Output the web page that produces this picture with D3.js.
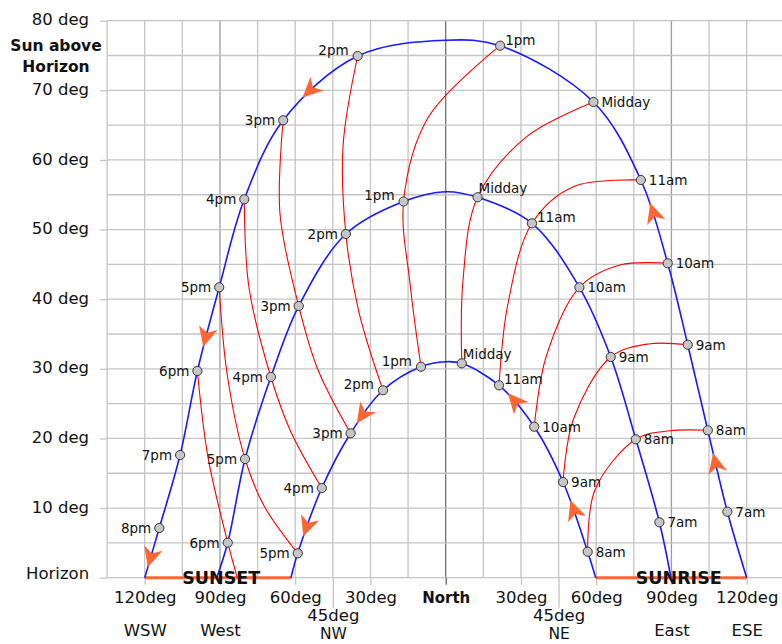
<!DOCTYPE html>
<html><head><meta charset="utf-8">
<script src="https://cdn.jsdelivr.net/npm/d3@7"></script>
<style>
body{margin:0;background:#fff;}
svg{display:block;font-family:"DejaVu Sans",sans-serif;}
</style></head><body>
<svg id="chart" width="782" height="644"></svg>
<script>
// ---------- data (azimuth from North: east +, west -; altitude in degrees) ----------
const times = ["7am","8am","9am","10am","11am","Midday","1pm","2pm","3pm","4pm","5pm","6pm","7pm","8pm"];
const summerAz   = [112.3,104.5,96.5,88.5,77.8,58.9,21.7,-35.1,-64.8,-80.3,-90.3,-99.0,-105.9,-114.2];
const summerAlt  = [9.48,21.17,33.46,45.16,57.12,68.32,76.41,74.93,65.7,54.35,41.71,29.69,17.62,7.14];
const equinoxAz  = [85.2,75.8,65.8,53.3,34.4,12.7,-16.8,-39.8,-58.6,-69.7,-80.0,-86.9,null,null];
const equinoxAlt = [7.96,19.88,31.7,41.71,50.9,54.64,54.03,49.36,39.02,28.83,17.05,5.03,null,null];
const winterAz   = [null,56.6,46.8,35.3,21.25,6.4,-9.85,-25.0,-37.9,-49.4,-59.0,null,null,null];
const winterAlt  = [null,3.73,13.74,21.69,27.63,30.79,30.3,26.92,20.74,12.88,3.5,null,null,null];
const seasons   = ["summer","equinox","winter"];
const sunriseAz = [120, 89.8, 59.8];
const sunsetAz  = [-120, -91.3, -61.7];
const noonAlt   = [77.2, 55.44, 31.02];

// hour lines joining the same clock time through the year
const hourLineTimes        = ["8am","9am","10am","11am","Midday","1pm","2pm","3pm","4pm","5pm","6pm"];
const hourLineWinterMidAz  = [59.5,50.8,40.0,24.8,6.9,-14.2,-34.6,-50.9,-61.7,-72.4,null];
const hourLineWinterMidAlt = [12.6,22.65,31.7,39.31,42.76,42.18,38.16,29.83,20.93,10.3,null];
const hourLineSummerMidAz  = [89.4,80.7,69.5,50.9,32.3,-7.1,-40.9,-66.1,-78.4,-87.2,-94.8];
const hourLineSummerMidAlt = [21.1,33.57,44.91,56.16,63.34,66.03,62.15,52.38,41.61,29.4,17.34];
const hourLineHorizonAz    = [null,null,null,null,null,null,null,null,null,null,-83.1];

// direction arrows on the sun paths (between two times)
const arrowSeason = ["summer","summer","summer","summer","summer","winter","winter","winter","winter"];
const arrowFrom   = ["7am","10am","2pm","5pm","8pm","8am","10am","2pm","4pm"];
const arrowTo     = ["8am","11am","3pm","6pm","sunset","9am","11am","3pm","5pm"];

// axes
const yTickValues = [0,10,20,30,40,50,60,70,80];
const yTickNames  = ["Horizon","10 deg","20 deg","30 deg","40 deg","50 deg","60 deg","70 deg","80 deg"];
const xTickValues = [-120,-90,-60,-45,-30,0,30,45,60,90,120];
const xTickNames  = ["120deg","90deg","60deg","45deg","30deg","North","30deg","45deg","60deg","90deg","120deg"];
const xTickCompass= ["WSW","West","","NW","","","","NE","","East","ESE"];
const yTitle = ["Sun above","Horizon"];

// ---------- chart ----------
const svg = d3.select("#chart");
const x = d3.scaleLinear().domain([-135,135]).range([107.1,784.3]);
const y = d3.scaleLinear().domain([0,80]).range([577.7,20.7]);
const GRID = "#c4c4c4", ORANGE = "#ff6633";

const gGrid = svg.append("g");
gGrid.append("g").selectAll("line").data(d3.range(-135,136,15)).join("line")
  .attr("x1",d=>x(d)).attr("x2",d=>x(d)).attr("y1",y(80)).attr("y2",y(0))
  .attr("stroke",d=>d===0?"#666":(Math.abs(d)===90?"#9c9c9c":GRID))
  .attr("stroke-width",d=>d===0?1.2:1.3);
gGrid.append("g").selectAll("line").data(d3.range(0,81,5)).join("line")
  .attr("x1",x(-135)).attr("x2",x(135)).attr("y1",d=>y(d)).attr("y2",d=>y(d))
  .attr("stroke",GRID).attr("stroke-width",1.3);

// y axis
const gy = svg.append("g").attr("transform",`translate(${x(-135)},0)`)
  .call(d3.axisLeft(y).tickValues(yTickValues).tickSize(7).tickPadding(11)
    .tickFormat((d,i)=>yTickNames[i]));
gy.attr("font-family",null).attr("font-size",null);
gy.select(".domain").remove();
gy.selectAll(".tick line").attr("stroke",GRID).attr("stroke-width",1.3);
gy.selectAll(".tick text").attr("font-size",16.5).attr("fill","#111")
  .attr("dy",d=>d===0?"0.05em":"0.25em");

svg.append("g").selectAll("text").data(yTitle).join("text")
  .attr("x",56).attr("y",(d,i)=>51+i*20.5).attr("text-anchor","middle")
  .attr("font-weight","bold").attr("font-size",15.5).attr("fill","#111").text(d=>d);

// x axis
const gx = svg.append("g").attr("transform",`translate(0,${y(0)})`)
  .call(d3.axisBottom(x).tickValues(xTickValues).tickSize(7)
    .tickFormat((d,i)=>xTickNames[i]));
gx.attr("font-family",null).attr("font-size",null);
gx.select(".domain").remove();
gx.selectAll(".tick line")
  .attr("stroke",d=>d===0?"#666":(Math.abs(d)===90?"#9c9c9c":GRID)).attr("stroke-width",1.3)
  .attr("y2",d=>Math.abs(d)===45?30:7);
gx.selectAll(".tick text").attr("dy",null)
  .attr("y",d=>Math.abs(d)===45?43:25.5)
  .attr("font-size",d=>d===0?15:16.5).attr("font-weight",d=>d===0?"bold":"normal")
  .attr("fill","#111");
gx.selectAll(".tick").each(function(d,i){
  const s = xTickCompass[i]; if(!s) return;
  d3.select(this).append("text").attr("y",Math.abs(d)===45?61:58)
    .attr("text-anchor","middle").attr("font-size",d=>Math.abs(d)===45?15.5:16.5)
    .attr("fill","#111").text(s);
});

// sunset / sunrise bars
const barData = [[sunsetAz[0],sunsetAz[2]],[sunriseAz[2],sunriseAz[0]]];
svg.append("g").selectAll("line").data(barData).join("line")
  .attr("x1",d=>x(d[0])).attr("x2",d=>x(d[1])).attr("y1",y(0)).attr("y2",y(0))
  .attr("stroke",ORANGE).attr("stroke-width",3);

// season points
const azArr=[summerAz,equinoxAz,winterAz], altArr=[summerAlt,equinoxAlt,winterAlt];
function seasonPoints(si){
  const pts=[{t:"sunrise",az:sunriseAz[si],alt:0,mark:false}];
  times.forEach((t,i)=>{ if(azArr[si][i]==null) return;
    pts.push({t,az:azArr[si][i],alt:altArr[si][i],mark:true,season:si}); });
  pts.push({t:"sunset",az:sunsetAz[si],alt:0,mark:false});
  const k=pts.findIndex(p=>p.az<0);
  pts.splice(k,0,{t:"noon",az:0,alt:noonAlt[si],mark:false});
  return pts;
}
const seasonPts = seasons.map((s,i)=>seasonPoints(i));

const line = d3.line().x(p=>x(p[0])).y(p=>y(p[1])).curve(d3.curveCatmullRom.alpha(0.5));

// hour lines (red)
const hourLines = hourLineTimes.map((t,i)=>{
  const wi = times.indexOf(t); const pts=[];
  if(winterAz[wi]!=null) pts.push([winterAz[wi],winterAlt[wi]]);
  else pts.push([hourLineHorizonAz[i],0]);
  if(hourLineWinterMidAz[i]!=null) pts.push([hourLineWinterMidAz[i],hourLineWinterMidAlt[i]]);
  pts.push([equinoxAz[wi],equinoxAlt[wi]]);
  pts.push([hourLineSummerMidAz[i],hourLineSummerMidAlt[i]]);
  pts.push([summerAz[wi],summerAlt[wi]]);
  return pts;
});
svg.append("g").selectAll("path").data(hourLines).join("path")
  .attr("d",line).attr("fill","none").attr("stroke","#ff0000").attr("stroke-width",1.1);

// sun paths (blue)
const pathSel = svg.append("g").selectAll("path").data(seasonPts).join("path")
  .attr("d",d=>line(d.map(p=>[p.az,p.alt]))).attr("fill","none")
  .attr("stroke","#1a1aff").attr("stroke-width",1.6);

// arrows
const pathNodes = pathSel.nodes();
const gArrow = svg.append("g");
arrowSeason.forEach((s,i)=>{
  const si = seasons.indexOf(s), node = pathNodes[si], pts = seasonPts[si];
  const L = node.getTotalLength(); const samples=[];
  for(let l=0;l<=L;l+=0.5){ const q=node.getPointAtLength(l); samples.push([l,q.x,q.y]); }
  const lenAt = t => { const p=pts.find(p=>p.t===t); const px=x(p.az), py=y(p.alt);
    let best=samples[0], bd=1e9; samples.forEach(sm=>{const dd=(sm[1]-px)**2+(sm[2]-py)**2; if(dd<bd){bd=dd;best=sm;}}); return best[0]; };
  const l1=lenAt(arrowFrom[i]), l2=lenAt(arrowTo[i]), m=l1+(l2-l1)*0.6;
  const c=node.getPointAtLength(m), a=node.getPointAtLength(Math.max(0,m-2)), b=node.getPointAtLength(Math.min(L,m+2));
  let ang = Math.atan2(b.y-a.y,b.x-a.x)*180/Math.PI; if(l2<l1) ang+=180;
  gArrow.append("path").attr("d","M10,0 L-10,-9.5 L-4.5,0 L-10,9.5 Z")
    .attr("transform",`translate(${c.x},${c.y}) rotate(${ang})`).attr("fill",ORANGE);
});

// markers & labels
const marks = seasonPts.flatMap((pts,si)=>pts.filter(p=>p.mark).map(p=>Object.assign({si},p)));
svg.append("g").selectAll("circle").data(marks).join("circle")
  .attr("cx",p=>x(p.az)).attr("cy",p=>y(p.alt)).attr("r",4.6)
  .attr("fill","#c6c6c6").attr("stroke","#333").attr("stroke-width",1);
svg.append("g").selectAll("text").data(marks).join("text")
  .each(function(p){
    const right = p.az>=0, near = p.alt > noonAlt[p.si]-6;
    let dx = right?8:-8, dy=0;
    if(near){ dx = right?5:-9; dy=-6; }
    if(p.t==="Midday" && near){ dx=1; dy=-9; }
    d3.select(this).attr("x",x(p.az)+dx).attr("y",y(p.alt)+dy).attr("dy","0.36em")
      .attr("text-anchor",right?"start":"end");
  })
  .attr("font-size",13.5).attr("fill","#111").text(p=>p.t);

// SUNSET / SUNRISE
svg.append("g").selectAll("text").data([["SUNSET",-89.5],["SUNRISE",92.9]]).join("text")
  .attr("x",d=>x(d[1])).attr("y",y(0)+6.5).attr("text-anchor","middle")
  .attr("font-weight","bold").attr("font-size",17.5).attr("fill","#111").text(d=>d[0]);
</script>
</body></html>
